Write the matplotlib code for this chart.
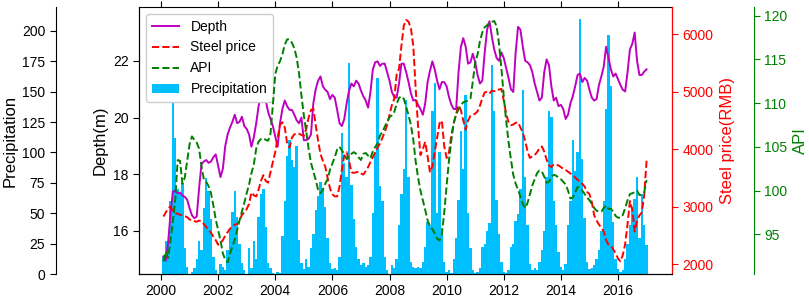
import numpy as np
import matplotlib
matplotlib.use("Agg")
import matplotlib.pyplot as plt

plt.rcParams['font.family'] = ['Liberation Sans', 'DejaVu Sans']

# monthly series, Jan 2000 - Dec 2016 (one row per year)
depth = [
    15.1, 14.95, 15.6, 16.6, 17.4, 17.4, 17.33, 17.35, 17.25, 17.2, 17.1, 16.8,
    16.55, 16.45, 16.5, 17.5, 18.35, 18.45, 18.5, 18.4, 18.45, 18.6, 18.7, 18.3,
    17.9, 18.2, 19.0, 19.4, 19.65, 19.85, 20.1, 19.8, 19.85, 20.03, 19.7, 19.6,
    19.4, 18.97, 19.3, 19.8, 20.4, 20.78, 20.85, 20.6, 20.2, 19.95, 19.7, 19.33,
    18.97, 19.8, 20.3, 20.6, 20.4, 20.27, 20.27, 20.1, 19.9, 19.8, 20.0, 19.2,
    19.2, 19.25, 19.4, 20.5, 21.0, 21.3, 21.45, 21.1, 20.98, 20.9, 20.65, 20.8,
    20.7, 20.27, 19.8, 19.7, 19.95, 20.5, 20.95, 21.2, 21.1, 21.3, 21.2, 20.95,
    20.75, 20.6, 20.35, 20.9, 21.7, 21.95, 21.98, 21.82, 21.9, 21.9, 21.6, 21.3,
    20.9, 20.72, 20.7, 21.2, 21.9, 21.9, 21.6, 21.25, 20.85, 20.6, 20.62, 20.45,
    20.3, 20.1, 20.5, 21.25, 21.65, 21.98, 21.7, 21.3, 21.0, 21.25, 21.25, 21.1,
    20.72, 20.45, 20.3, 20.3, 21.6, 22.5, 22.8, 22.5, 21.9, 21.95, 22.25, 21.95,
    21.5, 21.2, 21.3, 22.3, 23.1, 23.4, 22.85, 22.4, 22.1, 22.0, 22.3, 22.1,
    21.75, 21.4, 21.0, 20.9, 22.3, 23.2, 23.1, 22.5, 22.0, 21.95, 21.85, 21.6,
    21.2, 20.9, 20.6, 20.7, 21.6, 22.05, 21.85, 21.1, 20.6, 20.7, 20.4, 20.45,
    20.3, 19.95, 20.1, 20.5, 20.75, 21.1, 21.5, 21.55, 21.25, 21.4, 21.3, 20.98,
    20.7, 20.6, 20.65, 21.15, 21.45, 21.8, 22.5, 22.1, 21.7, 21.45, 21.55, 21.35,
    21.15, 20.98, 20.92, 21.6, 22.4, 22.6, 23.0, 22.0, 21.5, 21.5, 21.62, 21.7,
]

steel = [
    2830, 2900, 2980, 3000, 2920, 2890, 2880, 2860, 2850, 2840, 2820, 2780,
    2760, 2750, 2740, 2760, 2750, 2700, 2650, 2590, 2550, 2480, 2420, 2340,
    2370, 2420, 2500, 2560, 2620, 2660, 2690, 2700, 2760, 2860, 2900, 2960,
    3050, 3250, 3200, 3180, 3300, 3450, 3550, 3450, 3420, 3600, 3780, 3950,
    4200, 4430, 4470, 4380, 4100, 4030, 4200, 4260, 4280, 4270, 4250, 4230,
    4350, 4550, 4680, 4710, 4420, 4150, 3920, 3800, 3700, 3500, 3320, 3220,
    3180, 3180, 3350, 3650, 3900, 3950, 3800, 3600, 3590, 3600, 3610, 3580,
    3560, 3620, 3690, 3780, 3860, 3950, 4030, 4100, 4200, 4300, 4420, 4600,
    4770, 4880, 5300, 5400, 5800, 6150, 6250, 6220, 6100, 5800, 5050, 4400,
    3900, 4000, 4130, 3880, 3600, 3700, 3950, 4190, 4450, 4500, 4050, 3850,
    3950, 4250, 4450, 4620, 4760, 4680, 4500, 4340, 4500, 4580, 4600, 4620,
    4660, 4760, 4890, 4990, 5000, 4970, 5020, 5010, 5010, 5040, 5050, 4850,
    4620, 4470, 4420, 4430, 4460, 4470, 4380, 4290, 4150, 3960, 3850, 3880,
    3900, 3950, 4020, 4050, 3960, 3820, 3720, 3690, 3740, 3730, 3720, 3690,
    3660, 3640, 3610, 3580, 3550, 3510, 3470, 3430, 3400, 3350, 3260, 3220,
    3080, 2850, 2760, 2690, 2640, 2570, 2420, 2340, 2320, 2260, 2190, 2100,
    2050, 2160, 2350, 2700, 3100, 2950, 2570, 2760, 2850, 2900, 3200, 3800,
]

api = [
    91.9, 93.0, 92.3, 94.3, 96.5, 99.0, 103.5, 103.4, 100.8, 101.5, 103.4, 105.3,
    106.2, 105.8, 105.5, 104.8, 102.8, 101.3, 101.0, 100.5, 99.7, 98.3, 96.7, 95.5,
    94.3, 92.8, 92.1, 91.8, 92.8, 93.6, 94.4, 95.5, 96.6, 97.6, 98.6, 99.7,
    100.7, 102.0, 103.0, 104.8, 105.6, 105.9, 106.0, 105.8, 105.7, 106.5, 109.8, 113.3,
    114.3, 114.8, 115.6, 116.7, 117.3, 117.3, 116.9, 116.3, 115.2, 113.4, 110.9, 108.6,
    106.8, 104.8, 103.2, 102.2, 101.2, 100.1, 99.7, 100.1, 100.8, 101.3, 102.4, 103.1,
    103.8, 104.7, 105.0, 104.6, 104.2, 103.6, 103.9, 104.2, 104.4, 104.2, 103.8, 103.5,
    104.2, 104.3, 104.0, 103.7, 104.5, 105.0, 105.4, 106.3, 106.7, 107.3, 107.9, 108.4,
    108.6, 109.0, 109.9, 110.6, 110.8, 110.5, 109.6, 108.6, 107.5, 105.8, 103.3, 101.5,
    100.0, 98.9, 97.8, 96.6, 95.9, 95.6, 95.1, 94.5, 94.3, 95.0, 97.5, 100.6,
    103.5, 105.8, 107.8, 108.7, 109.3, 109.8, 110.1, 110.2, 110.3, 110.5, 112.5, 114.6,
    115.6, 117.1, 118.1, 118.7, 118.9, 119.2, 119.3, 119.4, 118.8, 116.8, 114.0, 110.8,
    108.0, 105.6, 103.6, 101.8, 100.8, 100.1, 99.3, 98.5, 98.0, 98.6, 99.6, 100.6,
    101.3, 102.0, 102.3, 102.2, 101.6, 100.9, 101.0, 101.6, 101.8, 101.7, 101.5, 101.3,
    101.0, 100.7, 100.0, 99.1, 99.2, 99.8, 100.4, 100.3, 100.0, 99.6, 99.2, 98.9,
    98.5, 98.0, 97.7, 97.6, 97.6, 98.0, 98.3, 97.9, 97.9, 97.6, 97.1, 96.9,
    96.9, 97.2, 98.0, 98.9, 99.6, 99.7, 99.8, 100.0, 99.5, 99.5, 99.8, 101.2,
]

precip = [
    14, 27, 27, 60, 149, 112, 70, 66, 75, 21, 6, 0,
    2, 5, 12, 27, 20, 54, 79, 68, 45, 14, 3, 0,
    8, 6, 3, 20, 38, 51, 68, 47, 25, 9, 3, 0,
    21, 5, 27, 12, 47, 66, 70, 39, 9, 5, 1, 0,
    2, 1, 31, 60, 97, 110, 94, 88, 105, 28, 9, 4,
    12, 6, 21, 33, 53, 64, 76, 70, 55, 30, 9, 4,
    5, 3, 14, 116, 91, 80, 174, 73, 45, 22, 12, 7,
    9, 6, 7, 14, 50, 100, 161, 72, 60, 14, 3, 0,
    7, 5, 12, 40, 66, 86, 143, 80, 10, 6, 5, 6,
    5, 10, 22, 43, 40, 134, 157, 50, 100, 38, 10, 2,
    3, 1, 12, 30, 61, 118, 86, 147, 50, 21, 3, 1,
    2, 5, 22, 25, 35, 42, 172, 134, 61, 33, 10, 2,
    1, 3, 22, 25, 44, 49, 70, 151, 80, 40, 8, 3,
    5, 3, 10, 20, 35, 80, 134, 129, 60, 40, 18, 6,
    3, 8, 40, 60, 110, 85, 100, 210, 95, 46, 10, 4,
    5, 7, 12, 20, 35, 60, 136, 197, 155, 43, 12, 4,
    2, 3, 12, 25, 40, 55, 62, 80, 30, 66, 40, 24,
]

t = 2000 + (np.arange(len(depth)) + 1) / 12.0

fig = plt.figure(figsize=(8.09, 3.03), dpi=100)
ax = fig.add_axes([139 / 809, 1 - 274 / 303, 533 / 809, 267 / 303])
axp = ax.twinx()
axs = ax.twinx()
axa = ax.twinx()

axp.set_zorder(0)
ax.set_zorder(1)
axs.set_zorder(2)
axa.set_zorder(3)
for a in (ax, axs, axa):
    a.patch.set_visible(False)

bars = axp.bar(t, precip, width=1 / 12.0, color='#00bfff', linewidth=0,
               label='Precipitation')
l1, = ax.plot(t, depth, color='#bf00bf', lw=1.4, label='Depth')
l2, = axs.plot(t, steel, color='red', lw=1.4, ls='--', label='Steel price')
l3, = axa.plot(t, api, color='green', lw=1.4, ls='--', label='API')

# x axis
ax.set_xlim(1999.23, 2017.89)
ax.set_xticks(range(2000, 2017, 2))
ax.tick_params(axis='x', direction='out', top=True, labelsize=10, length=4)

# depth (left)
ax.set_ylim(14.48, 23.9)
ax.set_yticks([16, 18, 20, 22])
ax.set_ylabel('Depth(m)', fontsize=12, labelpad=4)
ax.tick_params(axis='y', labelsize=10, length=4)

# precipitation (far left)
axp.set_ylim(0, 219.7)
axp.set_yticks(range(0, 201, 25))
axp.yaxis.set_label_position('left')
axp.yaxis.tick_left()
axp.spines['left'].set_position(('outward', 60))
axp.spines['right'].set_visible(False)
axp.spines['top'].set_visible(False)
axp.spines['bottom'].set_visible(False)
axp.set_ylabel('Precipitation', fontsize=12, labelpad=3)
axp.tick_params(axis='y', labelsize=10, length=4)

# steel price (right)
axs.set_ylim(1831, 6475)
axs.set_yticks(range(2000, 6001, 1000))
axs.spines['right'].set_color('red')
axs.tick_params(axis='y', colors='red', labelsize=10, length=4)
axs.set_ylabel('Steel price(RMB)', color='red', fontsize=12, labelpad=5)

# API (far right)
axa.set_ylim(90.46, 121.0)
axa.set_yticks(range(95, 121, 5))
axa.spines['right'].set_position(('outward', 59))
axa.spines['right'].set_color('green')
axa.spines['top'].set_visible(False)
axa.spines['bottom'].set_visible(False)
axa.spines['left'].set_visible(False)
axa.tick_params(axis='y', colors='green', labelsize=10, length=4)
axa.set_ylabel('API', color='green', fontsize=12, labelpad=4)

for a in (axp, axs):
    a.spines['top'].set_visible(False)

ax.legend([l1, l2, l3, bars], ['Depth', 'Steel price', 'API', 'Precipitation'],
          loc='upper left', fontsize=10, framealpha=1, edgecolor='#cccccc')

fig.savefig('out.png', dpi=100)
